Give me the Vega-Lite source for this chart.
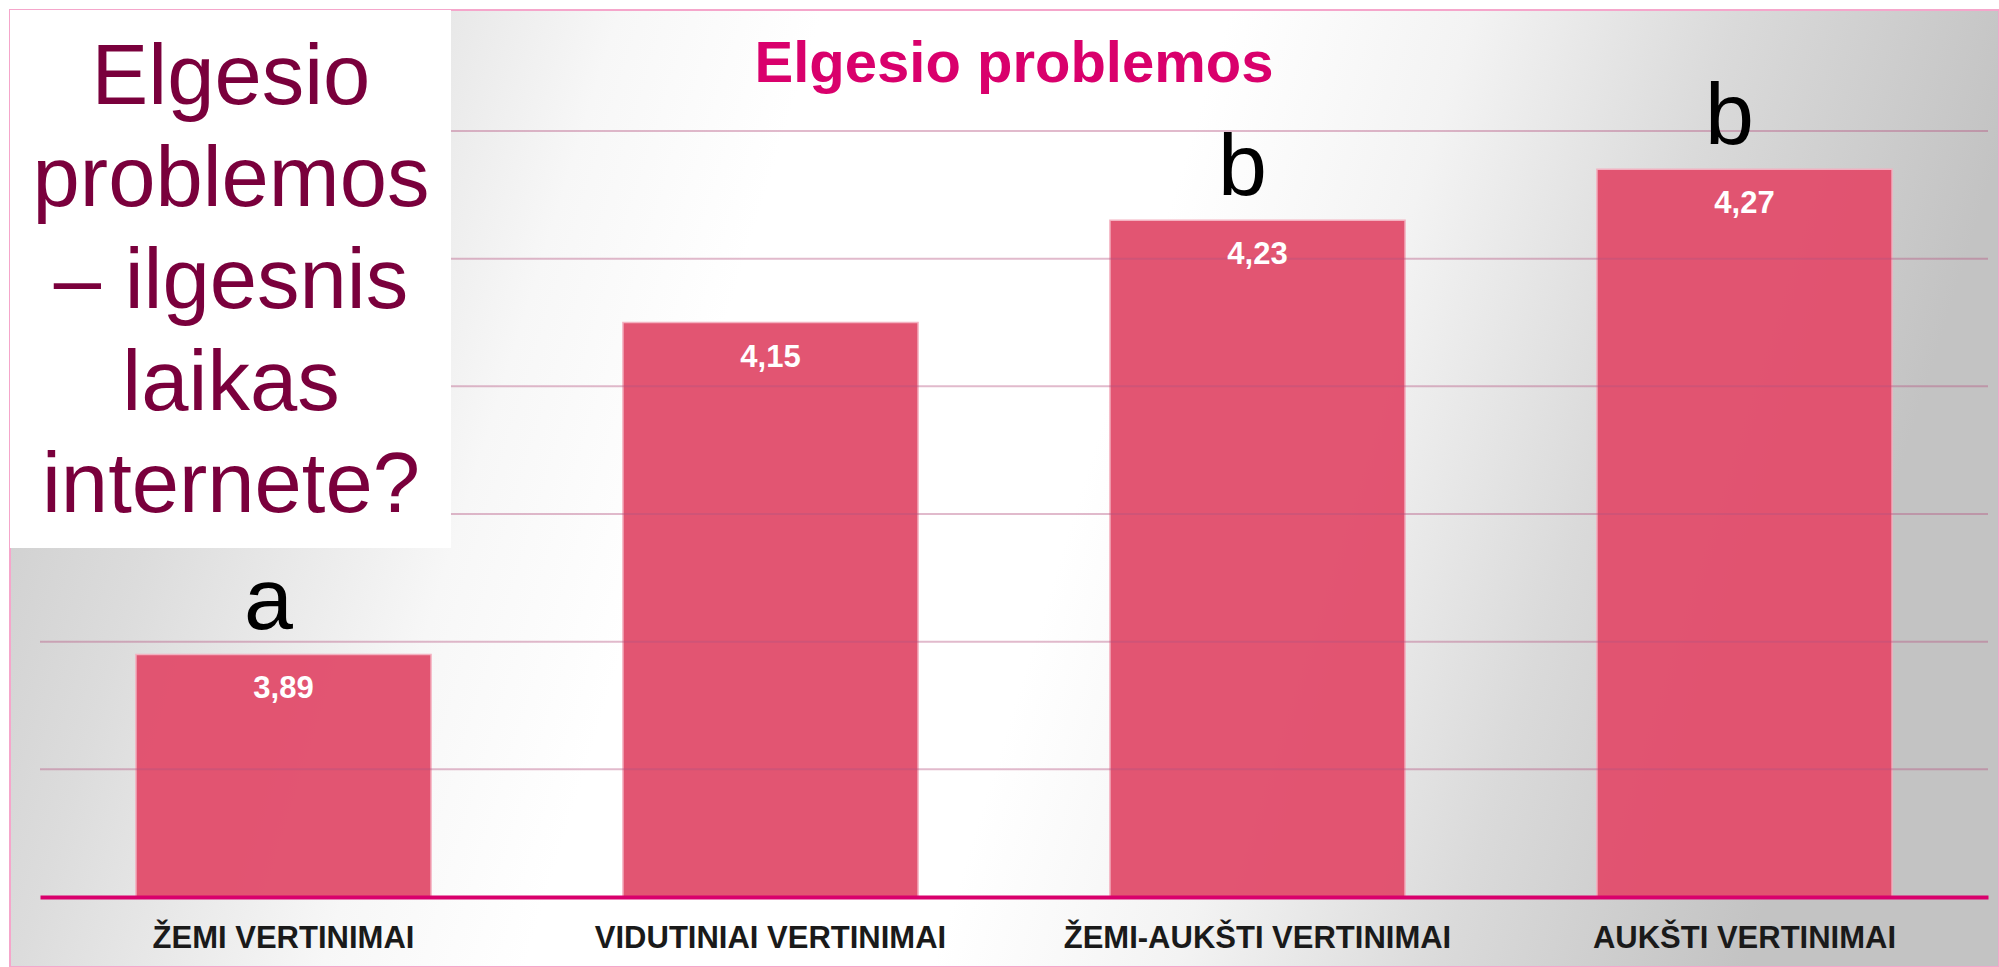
{
  "$schema": "https://vega.github.io/schema/vega-lite/v6.json",
  "width": 1948,
  "height": 766,
  "autosize": {"type": "none"},
  "padding": {"left": 40, "top": 131, "right": 11, "bottom": 70},
  "background": "#ffffff",
  "title": {
    "text": "Elgesio problemos",
    "font": "Liberation Sans",
    "fontSize": 58,
    "fontWeight": "bold",
    "color": "#D9006C",
    "anchor": "middle",
    "frame": "group",
    "baseline": "alphabetic",
    "offset": -131
  },
  "config": {"view": {"stroke": null}, "font": "Liberation Sans"},
  "datasets": {
    "bars": [
      {"grupe": "ŽEMI VERTINIMAI", "vidurkis": 3.89, "tekstas": "3,89", "raide": "a"},
      {"grupe": "VIDUTINIAI VERTINIMAI", "vidurkis": 4.15, "tekstas": "4,15", "raide": ""},
      {"grupe": "ŽEMI-AUKŠTI VERTINIMAI", "vidurkis": 4.23, "tekstas": "4,23", "raide": "b"},
      {"grupe": "AUKŠTI VERTINIMAI", "vidurkis": 4.27, "tekstas": "4,27", "raide": "b"}
    ],
    "grid": [{"v": 3.8}, {"v": 3.9}, {"v": 4.0}, {"v": 4.1}, {"v": 4.2}, {"v": 4.3}],
    "panels": [
      {"name": "background", "x0": -0.0616, "x1": 4.0226, "y0": 3.6452, "y1": 4.3948},
      {"name": "box", "x0": -0.0616, "x1": 0.8439, "y0": 3.9734, "y1": 4.3948}
    ],
    "boxtext": [{"x": 0.3922, "y": 4.3211, "text": "Elgesio|problemos|– ilgesnis|laikas|internete?"}]
  },
  "resolve": {"scale": {"x": "independent"}},
  "layer": [
    {
      "data": {"name": "panels"},
      "transform": [{"filter": "datum.name === 'background'"}],
      "mark": {
        "type": "rect",
        "fill": {
          "gradient": "linear",
          "x1": 0, "y1": 0, "x2": 1, "y2": 0.15,
          "stops": [
            {"offset": 0, "color": "#c6c6c6"},
            {"offset": 0.15, "color": "#dcdcdc"},
            {"offset": 0.3, "color": "#f7f7f7"},
            {"offset": 0.4, "color": "#ffffff"},
            {"offset": 0.6, "color": "#ffffff"},
            {"offset": 0.72, "color": "#f3f3f3"},
            {"offset": 0.85, "color": "#dadada"},
            {"offset": 1, "color": "#c3c3c3"}
          ]
        },
        "stroke": "#F5A6CB",
        "strokeWidth": 2
      },
      "encoding": {
        "x": {"field": "x0", "type": "quantitative", "scale": {"domain": [0, 4], "nice": false, "zero": false}, "axis": null},
        "x2": {"field": "x1"},
        "y": {"field": "y0", "type": "quantitative", "scale": {"domain": [3.7, 4.3], "nice": false, "zero": false}, "axis": null},
        "y2": {"field": "y1"}
      }
    },
    {
      "data": {"name": "bars"},
      "mark": {"type": "bar", "color": "#E2506E", "opacity": 0.97, "stroke": "#F4B0C0", "strokeWidth": 1.5},
      "encoding": {
        "x": {
          "field": "grupe",
          "type": "nominal",
          "sort": null,
          "scale": {"paddingInner": 0.394, "paddingOuter": 0.197},
          "axis": {
            "title": null,
            "labelAngle": 0,
            "ticks": false,
            "tickSize": 0,
            "domainColor": "#D9006C",
            "domainWidth": 4,
            "labelFont": "Liberation Sans",
            "labelFontWeight": "bold",
            "labelFontSize": 31,
            "labelColor": "#1a1a1a",
            "labelPadding": 26,
            "labelLimit": 600,
            "zindex": 1
          }
        },
        "y": {"field": "vidurkis", "type": "quantitative", "scale": {"domain": [3.7, 4.3], "nice": false, "zero": false}, "axis": null},
        "y2": {"datum": 3.7}
      }
    },
    {
      "data": {"name": "grid"},
      "mark": {"type": "rule", "color": "#B5527F", "opacity": 0.4, "strokeWidth": 2},
      "encoding": {
        "y": {"field": "v", "type": "quantitative", "scale": {"domain": [3.7, 4.3], "nice": false, "zero": false}, "axis": null}
      }
    },
    {
      "data": {"name": "bars"},
      "mark": {"type": "text", "color": "#ffffff", "font": "Liberation Sans", "fontWeight": "bold", "fontSize": 31, "baseline": "alphabetic", "align": "center", "dy": 44},
      "encoding": {
        "x": {"field": "grupe", "type": "nominal", "sort": null, "axis": null},
        "y": {"field": "vidurkis", "type": "quantitative", "scale": {"domain": [3.7, 4.3], "nice": false, "zero": false}, "axis": null},
        "text": {"field": "tekstas"}
      }
    },
    {
      "data": {"name": "bars"},
      "mark": {"type": "text", "color": "#000000", "font": "Liberation Sans", "fontSize": 88, "baseline": "alphabetic", "align": "center", "dx": -15, "dy": -25},
      "encoding": {
        "x": {"field": "grupe", "type": "nominal", "sort": null, "axis": null},
        "y": {"field": "vidurkis", "type": "quantitative", "scale": {"domain": [3.7, 4.3], "nice": false, "zero": false}, "axis": null},
        "text": {"field": "raide"}
      }
    },
    {
      "data": {"name": "panels"},
      "transform": [{"filter": "datum.name === 'box'"}],
      "mark": {"type": "rect", "fill": "#ffffff"},
      "encoding": {
        "x": {"field": "x0", "type": "quantitative", "scale": {"domain": [0, 4], "nice": false, "zero": false}, "axis": null},
        "x2": {"field": "x1"},
        "y": {"field": "y0", "type": "quantitative", "scale": {"domain": [3.7, 4.3], "nice": false, "zero": false}, "axis": null},
        "y2": {"field": "y1"}
      }
    },
    {
      "data": {"name": "boxtext"},
      "mark": {"type": "text", "color": "#7A003C", "font": "Liberation Sans", "fontSize": 85, "lineHeight": 102, "lineBreak": "|", "align": "center", "baseline": "alphabetic"},
      "encoding": {
        "x": {"field": "x", "type": "quantitative", "scale": {"domain": [0, 4], "nice": false, "zero": false}, "axis": null},
        "y": {"field": "y", "type": "quantitative", "scale": {"domain": [3.7, 4.3], "nice": false, "zero": false}, "axis": null},
        "text": {"field": "text"}
      }
    }
  ]
}
